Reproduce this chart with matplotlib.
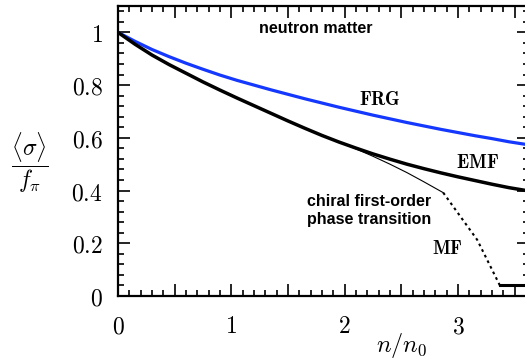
import matplotlib
matplotlib.use("Agg")
import matplotlib.pyplot as plt
from matplotlib.ticker import MultipleLocator

plt.rcParams["mathtext.fontset"] = "cm"

# Chiral condensate <sigma>/f_pi in neutron matter versus density n/n0
frg_density = [0.0, 0.15, 0.3, 0.45, 0.6, 0.75, 0.9, 1.05, 1.2, 1.35, 1.5, 1.65, 1.8,
               1.95, 2.1, 2.25, 2.4, 2.55, 2.7, 2.85, 3.0, 3.15, 3.3, 3.45, 3.63]
frg_sigma = [1.000, 0.966, 0.935, 0.908, 0.883, 0.860, 0.838, 0.818, 0.800, 0.782,
             0.765, 0.748, 0.732, 0.716, 0.701, 0.686, 0.672, 0.658, 0.645, 0.632,
             0.620, 0.608, 0.597, 0.585, 0.573]

emf_density = [0.0, 0.15, 0.3, 0.45, 0.6, 0.75, 0.9, 1.05, 1.2, 1.35, 1.5, 1.65, 1.8,
               1.95, 2.1, 2.25, 2.4, 2.55, 2.7, 2.85, 3.0, 3.15, 3.3, 3.45, 3.63]
emf_sigma = [1.000, 0.955, 0.914, 0.878, 0.845, 0.812, 0.781, 0.751, 0.722, 0.693,
             0.664, 0.636, 0.609, 0.584, 0.561, 0.539, 0.519, 0.500, 0.483, 0.467,
             0.452, 0.438, 0.424, 0.411, 0.398]

mf_density = [0.0, 0.15, 0.3, 0.45, 0.6, 0.75, 0.9, 1.05, 1.2, 1.35, 1.5, 1.65, 1.8,
              1.95, 2.1, 2.25, 2.4, 2.55, 2.7, 2.87]
mf_sigma = [1.000, 0.955, 0.914, 0.878, 0.845, 0.812, 0.781, 0.751, 0.722, 0.693,
            0.664, 0.636, 0.609, 0.584, 0.558, 0.530, 0.500, 0.468, 0.433, 0.392]

mf_jump_density = [2.87, 3.17, 3.37]
mf_jump_sigma = [0.392, 0.213, 0.04]

mf_restored_density = [3.37, 3.63]
mf_restored_sigma = [0.04, 0.04]

x_ticks = [0, 0.5, 1, 1.5, 2, 2.5, 3, 3.5]
x_tick_labels = ["0", "", "1", "", "2", "", "3", ""]
y_ticks = [0, 0.2, 0.4, 0.6, 0.8, 1.0]
y_tick_labels = ["0", "0.2", "0.4", "0.6", "0.8", "1"]

fig = plt.figure(figsize=(5.25, 3.59), dpi=100)
ax = fig.add_axes([118 / 525, 63 / 359, 411 / 525, 290 / 359])

ax.plot(frg_density, frg_sigma, color="#1438ff", lw=2.3, solid_capstyle="butt")
ax.plot(mf_density, mf_sigma, color="black", lw=0.8)
ax.plot(emf_density, emf_sigma, color="black", lw=2.5, solid_capstyle="butt")
ax.plot(mf_jump_density, mf_jump_sigma, color="black", lw=1.5, ls=(0, (1.3, 1.7)))
ax.plot(mf_restored_density, mf_restored_sigma, color="black", lw=2.2)

ax.set_xlim(0, 3.627)
ax.set_ylim(0, 1.1)

ax.set_xticks(x_ticks)
ax.set_xticklabels(["$%s$" % s if s else "" for s in x_tick_labels])
ax.set_yticks(y_ticks)
ax.set_yticklabels(["$%s$" % s for s in y_tick_labels])
ax.xaxis.set_minor_locator(MultipleLocator(0.1))
ax.yaxis.set_minor_locator(MultipleLocator(0.04))

ax.tick_params(which="both", direction="in", top=True, right=True, width=1.2)
ax.tick_params(which="major", length=8.5, labelsize=17)
ax.tick_params(axis="x", which="major", pad=13)
ax.tick_params(axis="y", which="major", pad=11)
ax.tick_params(which="minor", length=4.5)
for sp in ax.spines.values():
    sp.set_linewidth(1.6)

ax.text(2.312, 0.747, r"$\mathbf{FRG}$", fontsize=13.5, ha="center", va="center")
ax.text(3.177, 0.505, r"$\mathbf{EMF}$", fontsize=13.5, ha="center", va="center")
ax.text(2.904, 0.182, r"$\mathbf{MF}$", fontsize=13.5, ha="center", va="center")
ax.text(1.743, 1.013, "neutron matter", fontsize=11.5, fontweight="bold",
        family="Liberation Sans", ha="center", va="center")
ax.text(1.668, 0.324, "chiral first-order\nphase transition", fontsize=11.5,
        fontweight="bold", family="Liberation Sans", ha="left", va="center",
        linespacing=1.3)

fig.text(30 / 525, 1 - 163 / 359, r"$\dfrac{\langle\sigma\rangle}{f_\pi}$",
         fontsize=17, ha="center", va="center")
fig.text(402 / 525, 1 - 345 / 359, r"$n/n_0$", fontsize=17.5, ha="center", va="center")

fig.savefig("out.png", dpi=100)
